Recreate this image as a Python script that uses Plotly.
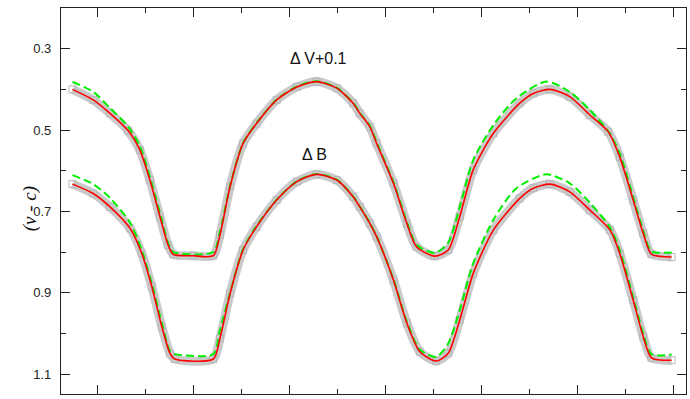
import plotly.graph_objects as go

# Phase values and magnitudes
v_fit_phase = [-0.252, -0.209, -0.174, -0.136, -0.112, -0.091, -0.070, -0.053, -0.042, -0.001, 0.041,
               0.055, 0.076, 0.103, 0.131, 0.173, 0.215, 0.256, 0.298, 0.332, 0.346, 0.367, 0.381,
               0.416, 0.444, 0.464, 0.502, 0.530, 0.554, 0.582, 0.624, 0.679, 0.707, 0.742, 0.783,
               0.825, 0.863, 0.887, 0.915, 0.936, 0.953, 0.995]
v_fit_mag = [0.400, 0.426, 0.459, 0.502, 0.549, 0.623, 0.713, 0.783, 0.806, 0.809, 0.809,
             0.758, 0.639, 0.533, 0.484, 0.426, 0.394, 0.381, 0.397, 0.434, 0.459, 0.492, 0.533,
             0.631, 0.730, 0.787, 0.810, 0.795, 0.713, 0.598, 0.508, 0.434, 0.410, 0.400, 0.418,
             0.463, 0.504, 0.566, 0.672, 0.754, 0.805, 0.812]

v_model_phase = [-0.252, -0.209, -0.174, -0.136, -0.112, -0.091, -0.070, -0.053, -0.042, 0.041,
                 0.055, 0.076, 0.103, 0.131, 0.173, 0.215, 0.256, 0.298, 0.332, 0.346, 0.367, 0.381,
                 0.416, 0.444, 0.464, 0.502, 0.530, 0.554, 0.582, 0.624, 0.672, 0.734, 0.783,
                 0.825, 0.866, 0.887, 0.915, 0.936, 0.953, 0.995]
v_model_mag = [0.382, 0.406, 0.446, 0.492, 0.539, 0.615, 0.704, 0.778, 0.800, 0.800,
               0.750, 0.637, 0.532, 0.483, 0.425, 0.393, 0.380, 0.396, 0.433, 0.458, 0.490, 0.530,
               0.628, 0.726, 0.782, 0.802, 0.777, 0.689, 0.574, 0.488, 0.422, 0.381, 0.406,
               0.451, 0.508, 0.557, 0.665, 0.748, 0.798, 0.801]

b_fit_phase = [-0.252, -0.209, -0.174, -0.132, -0.108, -0.087, -0.066, -0.049, -0.039, 0.041,
               0.055, 0.076, 0.103, 0.131, 0.173, 0.215, 0.256, 0.298, 0.332, 0.346, 0.367, 0.381,
               0.416, 0.444, 0.471, 0.505, 0.530, 0.554, 0.582, 0.624, 0.679, 0.707, 0.742, 0.783,
               0.825, 0.867, 0.887, 0.915, 0.936, 0.953, 0.995]
b_fit_mag = [0.633, 0.656, 0.689, 0.742, 0.803, 0.885, 0.984, 1.049, 1.063, 1.063,
             1.012, 0.902, 0.795, 0.738, 0.672, 0.627, 0.609, 0.623, 0.664, 0.689, 0.730, 0.762,
             0.869, 0.975, 1.045, 1.068, 1.049, 0.967, 0.853, 0.746, 0.668, 0.643, 0.633, 0.652,
             0.697, 0.746, 0.803, 0.918, 1.008, 1.060, 1.066]

b_model_phase = [-0.252, -0.209, -0.174, -0.132, -0.108, -0.087, -0.066, -0.049, -0.039, 0.041,
                 0.055, 0.076, 0.103, 0.131, 0.173, 0.215, 0.256, 0.298, 0.332, 0.346, 0.367, 0.381,
                 0.416, 0.444, 0.471, 0.505, 0.530, 0.554, 0.582, 0.624, 0.672, 0.734, 0.783,
                 0.825, 0.866, 0.887, 0.915, 0.936, 0.953, 0.995]
b_model_mag = [0.611, 0.633, 0.667, 0.728, 0.795, 0.878, 0.975, 1.044, 1.051, 1.051,
               0.992, 0.900, 0.793, 0.736, 0.671, 0.626, 0.608, 0.622, 0.663, 0.688, 0.729, 0.761,
               0.867, 0.972, 1.040, 1.058, 1.025, 0.943, 0.828, 0.721, 0.643, 0.609, 0.631,
               0.679, 0.738, 0.795, 0.911, 1.001, 1.051, 1.052]

y_ticks = [0.3, 0.5, 0.7, 0.9, 1.1]
y_tick_labels = ["0.3", "0.5", "0.7", "0.9", "1.1"]
label_v = "Δ V+0.1"
label_b = "Δ B"
y_title = "(v - c)"

fig = go.Figure()

for ph, mg in [(v_fit_phase, v_fit_mag), (b_fit_phase, b_fit_mag)]:
    fig.add_trace(go.Scatter(x=ph, y=mg, mode="lines+markers",
                             line=dict(color="#cacaca", width=9, shape="spline", smoothing=0.7),
                             marker=dict(symbol="square-open", size=7, color="#b8b8b8", line=dict(width=1)),
                             hoverinfo="skip", showlegend=False))
for ph, mg in [(v_model_phase, v_model_mag), (b_model_phase, b_model_mag)]:
    fig.add_trace(go.Scatter(x=ph, y=mg, mode="lines",
                             line=dict(color="#00ee00", width=2, dash="8px,4px", shape="spline", smoothing=0.7),
                             showlegend=False))
for ph, mg in [(v_fit_phase, v_fit_mag), (b_fit_phase, b_fit_mag)]:
    fig.add_trace(go.Scatter(x=ph, y=mg, mode="lines",
                             line=dict(color="#ff0000", width=1.6, shape="spline", smoothing=0.7),
                             showlegend=False))

fig.add_annotation(x=0.259, y=0.323, text=label_v, showarrow=False,
                   font=dict(family="Liberation Sans", size=16, color="#111"))
fig.add_annotation(x=0.252, y=0.561, text=label_b, showarrow=False,
                   font=dict(family="Liberation Sans", size=16, color="#111"))
fig.add_annotation(xref="paper", yref="paper", x=-0.071, y=0.48, textangle=-90,
                   text=y_title, showarrow=False,
                   font=dict(family="Liberation Serif", size=19, color="#111", style="italic"))

fig.update_layout(
    width=690, height=399,
    margin=dict(l=61, r=4, t=8, b=5),
    paper_bgcolor="white", plot_bgcolor="white",
    xaxis=dict(range=[-0.276, 1.025], tick0=-0.2, dtick=0.2, ticks="inside", ticklen=9,
               tickcolor="#222", showticklabels=False, showgrid=False, zeroline=False,
               showline=True, linecolor="#222", linewidth=1.3, mirror="allticks",
               minor=dict(dtick=0.1, ticks="inside", ticklen=5, tickcolor="#222")),
    yaxis=dict(range=[1.149, 0.2], tickvals=y_ticks, ticktext=y_tick_labels, ticks="inside",
               ticklen=9, tickcolor="#222", showgrid=False, zeroline=False,
               showline=True, linecolor="#222", linewidth=1.3, mirror="allticks",
               tickfont=dict(family="Liberation Sans", size=13, color="#222"),
               ticklabelstandoff=6,
               minor=dict(tickvals=[0.4, 0.6, 0.8, 1.0], ticks="inside", ticklen=5, tickcolor="#222")),
)

fig.write_html("out.html", config={"displayModeBar": False},
               post_script="document.body.style.margin='0';document.body.style.overflow='hidden';")
